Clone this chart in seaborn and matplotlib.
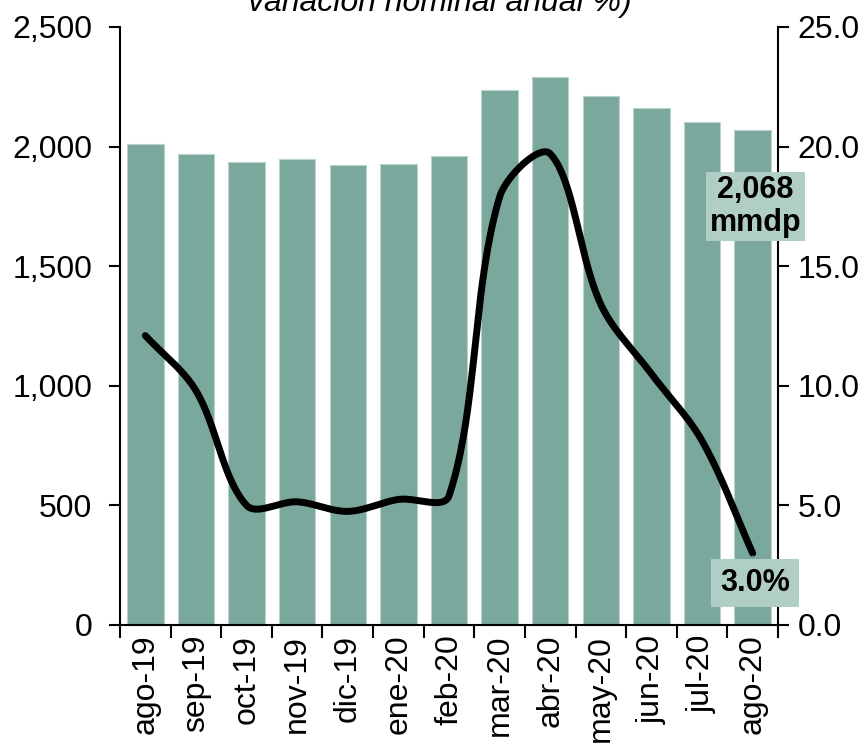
import numpy as np
import pandas as pd
import matplotlib
matplotlib.use("Agg")
import matplotlib.pyplot as plt
import seaborn as sns
from matplotlib.ticker import FuncFormatter, FixedLocator

# Data
months = ["ago-19", "sep-19", "oct-19", "nov-19", "dic-19", "ene-20", "feb-20",
          "mar-20", "abr-20", "may-20", "jun-20", "jul-20", "ago-20"]
saldo_mmdp = [2010, 1968, 1934, 1948, 1923, 1927, 1961,
              2235, 2291, 2213, 2161, 2103, 2068]
var_anual = [12.1, 9.8, 5.0, 5.15, 4.75, 5.25, 5.4,
             17.9, 19.7, 13.4, 10.5, 7.7, 3.0]

BAR_COLOR = "#7ba89d"
BOX_COLOR = "#b0cdc6"


def smooth_curve(y, yscale=0.475, steps=40):
    # Bezier smoothing scaled by chord lengths (similar to Excel's smoothed line)
    x = np.arange(len(y), dtype=float)
    y = np.asarray(y, dtype=float)
    pts = np.column_stack([x, y * yscale])
    n = len(pts)
    out = [pts[0]]
    for i in range(n - 1):
        p1, p2 = pts[i], pts[i + 1]
        p0 = pts[i - 1] if i > 0 else p1
        p3 = pts[i + 2] if i + 2 < n else p2
        l01 = np.linalg.norm(p1 - p0)
        l12 = np.linalg.norm(p2 - p1)
        l23 = np.linalg.norm(p3 - p2)
        d1 = p2 - p0
        d2 = p3 - p1
        c1 = p1 + d1 * (l12 / (l01 + l12)) / 3
        c2 = p2 - d2 * (l12 / (l12 + l23)) / 3
        t = np.linspace(0, 1, steps)[1:, None]
        seg = ((1 - t) ** 3 * p1 + 3 * (1 - t) ** 2 * t * c1
               + 3 * (1 - t) * t ** 2 * c2 + t ** 3 * p2)
        out.extend(seg)
    out = np.array(out)
    return out[:, 0], out[:, 1] / yscale


sns.set_theme(style="white")
plt.rcParams["font.family"] = ["Liberation Sans", "DejaVu Sans"]
for key in ["text.color", "axes.labelcolor", "xtick.color", "ytick.color"]:
    plt.rcParams[key] = "black"

fig = plt.figure(figsize=(8.68, 7.45), dpi=100)
ax = fig.add_axes([120 / 868, 1 - 625 / 745, 658 / 868, 598 / 745])

df = pd.DataFrame({"mes": months, "saldo": saldo_mmdp})
sns.barplot(data=df, x="mes", y="saldo", color=BAR_COLOR, width=0.72,
            saturation=1, edgecolor="#b8d3cb", linewidth=0.8, ax=ax)

ax.set_ylim(0, 2500)
ax.set_xlim(-0.5, len(months) - 0.5)
ax.set_yticks(np.arange(0, 2501, 500))
ax.yaxis.set_major_formatter(FuncFormatter(lambda v, p: f"{v:,.0f}"))
ax.set_xlabel("")
ax.set_ylabel("")

# x ticks at category boundaries, labels at centres
ax.xaxis.set_major_locator(FixedLocator(np.arange(-0.5, len(months), 1.0)))
ax.xaxis.set_major_formatter(FuncFormatter(lambda v, p: ""))
ax.xaxis.set_minor_locator(FixedLocator(np.arange(len(months))))
ax.set_xticklabels(months, minor=True, rotation=90, fontsize=23)
ax.tick_params(axis="x", which="major", direction="out", length=9, width=1.5,
               color="black", bottom=True)
ax.tick_params(axis="x", which="minor", length=0, pad=7)
ax.tick_params(axis="y", direction="out", length=8, width=1.5, color="black",
               labelsize=23, left=True, pad=12)

for side in ["top", "right"]:
    ax.spines[side].set_visible(False)
for side in ["left", "bottom"]:
    ax.spines[side].set_color("black")
    ax.spines[side].set_linewidth(1.5)

ax2 = ax.twinx()
xs, ys = smooth_curve(var_anual)
sns.lineplot(x=xs, y=ys, color="black", linewidth=5, ax=ax2,
             solid_capstyle="round", sort=False)
ax2.set_ylim(0, 25)
ax2.set_yticks(np.arange(0, 25.1, 5))
ax2.yaxis.set_major_formatter(FuncFormatter(lambda v, p: f"{v:.1f}"))
ax2.tick_params(axis="y", direction="out", length=8, width=1.5, color="black",
                labelsize=23, right=True, pad=6)
for side in ["top", "left", "bottom"]:
    ax2.spines[side].set_visible(False)
ax2.spines["right"].set_color("black")
ax2.spines["right"].set_linewidth(1.5)
ax2.set_ylabel("")

# annotations
last = len(months) - 1
ax2.annotate(f"{saldo_mmdp[-1]:,}\nmmdp", xy=(last, saldo_mmdp[-1] / 100),
             xytext=(last + 0.05, 17.5), ha="center", va="center", fontsize=22,
             fontweight="bold", linespacing=1.1,
             bbox=dict(boxstyle="square,pad=0.12", fc=BOX_COLOR, ec="none"))
ax2.annotate(f"{var_anual[-1]:.1f}%", xy=(last, var_anual[-1]),
             xytext=(last + 0.05, 1.75), ha="center", va="center", fontsize=22,
             fontweight="bold",
             arrowprops=dict(arrowstyle="-", color="#999999", lw=1),
             bbox=dict(boxstyle="square,pad=0.3", fc=BOX_COLOR, ec="none"))

fig.text(440 / 868, 1 - 11 / 745, "variación nominal anual %)", ha="center",
         va="baseline", fontsize=23, style="italic")

fig.savefig("out.png", dpi=100)
